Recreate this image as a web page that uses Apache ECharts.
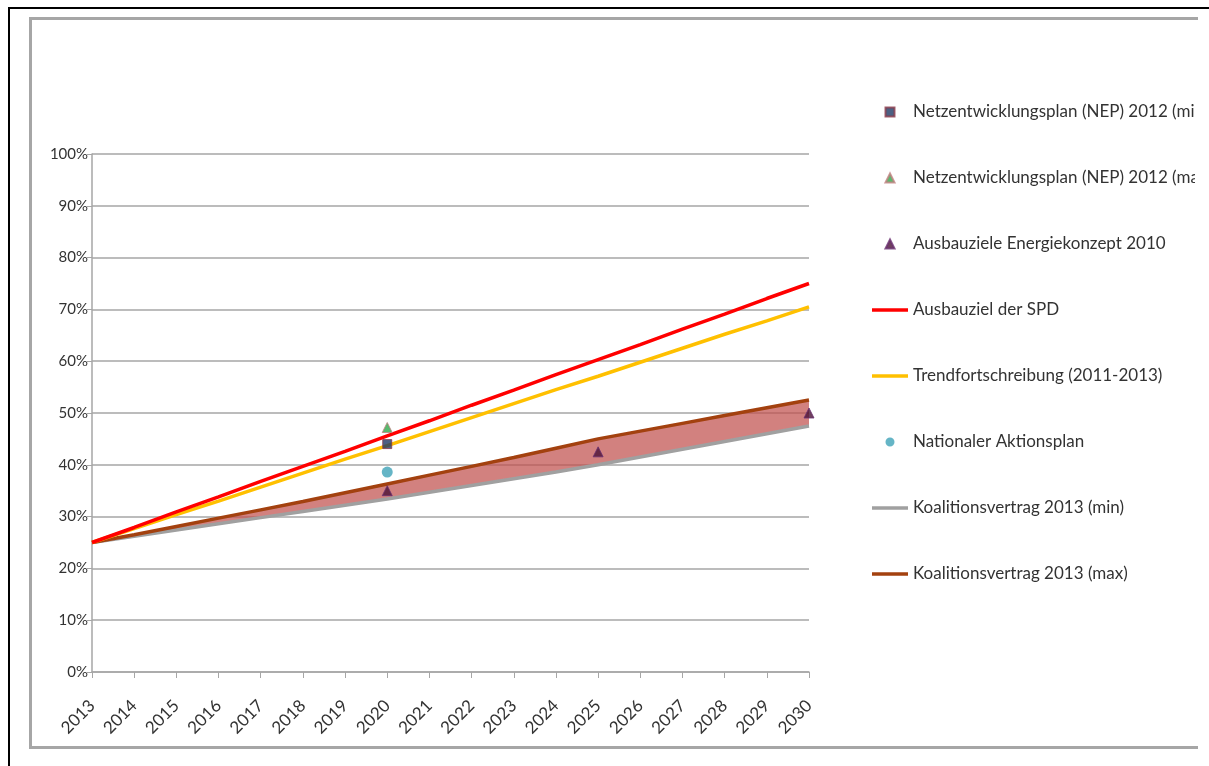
<!DOCTYPE html>
<html>
<head>
<meta charset="utf-8">
<script src="https://cdn.jsdelivr.net/npm/echarts@6/dist/echarts.min.js"></script>
<style>
  body { margin: 0; background: #fff; }
  .outer { position: absolute; left: 8px; top: 7px; width: 1300px; height: 900px;
           border-left: 2px solid #000; border-top: 2px solid #000; }
  .inner { position: absolute; left: 29px; top: 17px; width: 1166px; height: 726px;
           border-left: 3px solid #a6a6a6; border-top: 3px solid #a6a6a6; border-bottom: 3px solid #a6a6a6; }
  #chart { position: absolute; left: 0; top: 0; width: 1195px; height: 766px; }
</style>
</head>
<body>
<div class="outer"></div>
<div class="inner"></div>
<div id="chart"></div>
<script>
// Anteil erneuerbarer Energien am Bruttostromverbrauch (%)
var years = ['2013', '2014', '2015', '2016', '2017', '2018', '2019', '2020', '2021',
             '2022', '2023', '2024', '2025', '2026', '2027', '2028', '2029', '2030'];

var spd = [25, 27.9, 30.9, 33.8, 36.8, 39.7, 42.6, 45.6, 48.5, 51.5, 54.4, 57.4, 60.3, 63.2, 66.2, 69.1, 72.1, 75];
var trend = [25, 27.7, 30.4, 33.0, 35.7, 38.4, 41.1, 43.7, 46.4, 49.1, 51.8, 54.5, 57.1, 59.8, 62.5, 65.2, 67.8, 70.5];
var koalMin = [25, 26.2, 27.4, 28.6, 29.8, 31.0, 32.2, 33.4, 34.7, 36.0, 37.3, 38.6, 40.0, 41.5, 43.0, 44.5, 46.0, 47.5];
var koalMax = [25, 26.5, 28.1, 29.7, 31.3, 32.9, 34.6, 36.3, 38.0, 39.7, 41.4, 43.2, 45.0, 46.5, 48.0, 49.5, 51.0, 52.5];

var nepMin = [['2020', 44]];
var nepMax = [['2020', 47.2]];
var energiekonzept = [['2020', 35], ['2025', 42.5], ['2030', 50]];
var aktionsplan = [['2020', 38.6]];

var yTicks = { min: 0, max: 100, interval: 10 };

var names = [
  'Netzentwicklungsplan (NEP) 2012 (min)',
  'Netzentwicklungsplan (NEP) 2012 (max)',
  'Ausbauziele Energiekonzept 2010',
  'Ausbauziel der SPD',
  'Trendfortschreibung (2011-2013)',
  'Nationaler Aktionsplan',
  'Koalitionsvertrag 2013 (min)',
  'Koalitionsvertrag 2013 (max)'
];

var bandDiff = koalMax.map(function (v, i) { return +(v - koalMin[i]).toFixed(2); });

var sq = 'path://M0,0 L10,0 L10,10 L0,10 Z';
var tri = 'path://M5,0 L10,10 L0,10 Z';
var circ = 'path://M5,0 A5,5 0 1,1 4.99,0 Z';
var bar = 'path://M0,0 L36,0 L36,3.5 L0,3.5 Z';

function lineSeries(name, data, color, z) {
  return {
    name: name, type: 'line', data: data, symbol: 'none', z: z,
    lineStyle: { color: color, width: 3.5 }, itemStyle: { color: color }
  };
}

var chart = echarts.init(document.getElementById('chart'));
chart.setOption({
  animation: false,
  textStyle: { fontFamily: 'Lato' },
  grid: { left: 92, top: 154, right: 386, bottom: 94, containLabel: false, outerBoundsMode: 'none' },
  legend: {
    orient: 'vertical', left: 867, top: 97,
    itemWidth: 36, itemHeight: 9, itemGap: 46,
    symbolKeepAspect: true,
    textStyle: { fontSize: 17, color: '#333', lineHeight: 20, fontFamily: 'Lato' },
    data: [
      { name: names[0], icon: sq },
      { name: names[1], icon: tri },
      { name: names[2], icon: tri },
      { name: names[3], icon: bar },
      { name: names[4], icon: bar },
      { name: names[5], icon: circ },
      { name: names[6], icon: bar },
      { name: names[7], icon: bar }
    ]
  },
  xAxis: {
    type: 'category', data: years, boundaryGap: false,
    axisLine: { lineStyle: { color: '#a6a6a6', width: 1.5 } },
    axisTick: { show: true, length: 6, lineStyle: { color: '#a6a6a6' } },
    axisLabel: { rotate: 45, fontSize: 17, fontFamily: 'Lato', color: '#333', margin: 31, interval: 0 }
  },
  yAxis: {
    type: 'value', min: yTicks.min, max: yTicks.max, interval: yTicks.interval,
    axisLine: { show: true, lineStyle: { color: '#a6a6a6', width: 1.5 } },
    axisTick: { show: true, length: 5, lineStyle: { color: '#a6a6a6' } },
    splitLine: { lineStyle: { color: '#a6a6a6', width: 1.5 } },
    axisLabel: { formatter: '{value}%', fontSize: 15, fontFamily: 'Lato', color: '#333', margin: 4 }
  },
  series: [
    {
      name: 'bandBase', type: 'line', data: koalMin, stack: 'band', symbol: 'none',
      lineStyle: { opacity: 0 }, silent: true, z: 1
    },
    {
      name: 'bandFill', type: 'line', data: bandDiff, stack: 'band', symbol: 'none',
      lineStyle: { opacity: 0 }, silent: true, z: 1,
      areaStyle: { color: '#c0504d', opacity: 0.72 }
    },
    lineSeries(names[6], koalMin, '#a0a0a0', 2),
    lineSeries(names[7], koalMax, '#a3410f', 3),
    lineSeries(names[4], trend, '#ffc000', 3),
    lineSeries(names[3], spd, '#ff0000', 4),
    {
      name: names[0], type: 'scatter', data: nepMin, symbol: 'rect', symbolSize: 9, z: 5,
      itemStyle: { color: '#1f3864', borderColor: '#8b3a4a', borderWidth: 1 }
    },
    {
      name: names[1], type: 'scatter', data: nepMax, symbol: 'triangle', symbolSize: 10, z: 5,
      itemStyle: { color: '#2ea84a', borderColor: '#c08080', borderWidth: 1 }
    },
    {
      name: names[2], type: 'scatter', data: energiekonzept, symbol: 'triangle', symbolSize: 10, z: 5,
      itemStyle: { color: '#4a1236', borderColor: '#6a3070', borderWidth: 1 }
    },
    {
      name: names[5], type: 'scatter', data: aktionsplan, symbol: 'circle', symbolSize: 11, z: 5,
      itemStyle: { color: '#3fa2b8' }
    }
  ]
});
</script>
</body>
</html>
